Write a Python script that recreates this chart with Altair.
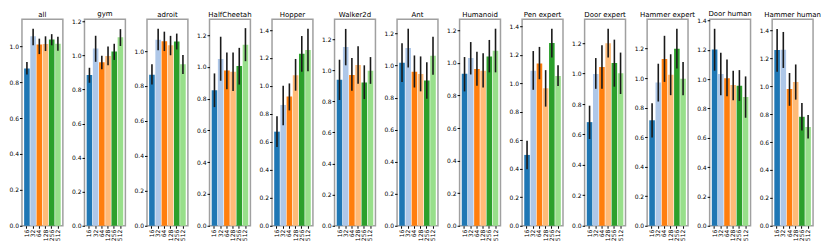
import altair as alt
import pandas as pd

PANELS = ["all", "gym", "adroit", "HalfCheetah", "Hopper", "Walker2d", "Ant",
          "Humanoid", "Pen expert", "Door expert", "Hammer expert",
          "Door human", "Hammer human"]
SIZES = ["16", "32", "64", "128", "256", "512"]
COLORS = ["#1f77b4", "#aec7e8", "#ff7f0e", "#ffbb78", "#2ca02c", "#98df8a"]

MEANS = [
    [0.876, 1.055, 1.009, 1.012, 1.037, 1.014],
    [0.885, 1.041, 0.961, 0.997, 1.023, 1.107],
    [0.865, 1.065, 1.056, 1.033, 1.055, 0.924],
    [0.853, 1.050, 0.977, 0.969, 1.005, 1.140],
    [0.673, 0.864, 0.925, 1.077, 1.230, 1.257],
    [0.939, 1.149, 0.969, 1.033, 0.920, 0.996],
    [1.017, 1.109, 0.962, 0.948, 0.906, 1.061],
    [0.933, 1.030, 0.962, 0.952, 1.040, 1.075],
    [0.497, 1.088, 1.139, 0.965, 1.282, 1.050],
    [0.681, 0.998, 1.044, 1.200, 1.069, 1.002],
    [0.714, 0.970, 1.129, 1.022, 1.198, 0.996],
    [1.203, 1.036, 1.006, 0.960, 0.956, 0.878],
    [1.259, 1.261, 0.981, 1.031, 0.781, 0.708],
]
LOWER = [
    [0.842, 1.005, 0.956, 0.973, 1.005, 0.975],
    [0.840, 0.963, 0.920, 0.943, 0.974, 1.056],
    [0.809, 1.005, 1.000, 0.976, 1.009, 0.869],
    [0.747, 0.913, 0.859, 0.849, 0.889, 1.036],
    [0.564, 0.718, 0.825, 0.966, 1.102, 1.105],
    [0.808, 1.031, 0.867, 0.912, 0.814, 0.912],
    [0.898, 0.988, 0.863, 0.839, 0.793, 0.942],
    [0.825, 0.929, 0.859, 0.849, 0.942, 0.942],
    [0.397, 0.954, 1.028, 0.836, 1.181, 0.981],
    [0.570, 0.900, 0.900, 1.106, 0.914, 0.866],
    [0.598, 0.841, 0.974, 0.884, 1.065, 0.884],
    [1.058, 0.891, 0.884, 0.856, 0.852, 0.737],
    [1.104, 1.131, 0.860, 0.904, 0.683, 0.626],
]
UPPER = [
    [0.912, 1.097, 1.042, 1.055, 1.067, 1.053],
    [0.928, 1.116, 0.998, 1.053, 1.069, 1.155],
    [0.924, 1.127, 1.111, 1.087, 1.100, 0.978],
    [0.959, 1.190, 1.090, 1.090, 1.120, 1.244],
    [0.784, 1.002, 1.018, 1.193, 1.357, 1.409],
    [1.067, 1.265, 1.078, 1.153, 1.031, 1.084],
    [1.140, 1.230, 1.063, 1.057, 1.021, 1.180],
    [1.036, 1.128, 1.069, 1.060, 1.141, 1.210],
    [0.597, 1.226, 1.255, 1.092, 1.382, 1.126],
    [0.789, 1.102, 1.186, 1.294, 1.223, 1.138],
    [0.830, 1.097, 1.286, 1.161, 1.333, 1.108],
    [1.344, 1.181, 1.134, 1.058, 1.062, 1.019],
    [1.411, 1.389, 1.095, 1.156, 0.879, 0.794],
]
YMAX = [1.150, 1.213, 1.182, 1.300, 1.477, 1.327, 1.289, 1.268, 1.449,
        1.357, 1.398, 1.409, 1.480]
TICKS = [0.0, 0.2, 0.4, 0.6, 0.8, 1.0, 1.2, 1.4]

W = 41
H = 207
PERIOD = 62.67

panels = []
for i, name in enumerate(PANELS):
    df = pd.DataFrame({"size": SIZES, "mean": MEANS[i],
                       "lo": LOWER[i], "hi": UPPER[i]})
    ticks = [t for t in TICKS if t <= YMAX[i]]
    xenc = alt.X("size:N", sort=SIZES,
                 scale=alt.Scale(paddingInner=0.1, paddingOuter=0.35),
                 axis=alt.Axis(title=None, labelAngle=270, labelOverlap=False))
    yscale = alt.Scale(domain=[0, YMAX[i]], nice=False, zero=True)
    yaxis = alt.Axis(title=None, values=ticks, format=".1f",
                     labelOverlap=False, tickCount=len(ticks))
    base = alt.Chart(df)
    bars = base.mark_bar().encode(
        x=xenc,
        y=alt.Y("mean:Q", scale=yscale, axis=yaxis),
        color=alt.Color("size:N", scale=alt.Scale(domain=SIZES, range=COLORS),
                        legend=None),
    )
    err = base.mark_rule(color="#1a1a1a", strokeWidth=1.6).encode(
        x=xenc,
        y=alt.Y("lo:Q", scale=yscale, axis=yaxis),
        y2="hi:Q",
    )
    panels.append(
        alt.layer(bars, err).properties(
            width=W, height=H,
            title=alt.TitleParams(name, fontSize=7, font="DejaVu Sans",
                                  fontWeight="normal", offset=1, color="black"),
        )
    )

chart = alt.hconcat(*panels, spacing=PERIOD - W, bounds="flush").properties(
    padding=0
).configure_view(
    stroke="#a0a0a0", strokeWidth=1.5
).configure_axis(
    labelFont="DejaVu Sans", labelFontSize=6, labelColor="black",
    tickSize=2.5, tickColor="black", domain=False, grid=False,
    labelPadding=1, labelOverlap=False,
)

chart.save("out.html", embed_options={"renderer": "svg", "actions": False})
